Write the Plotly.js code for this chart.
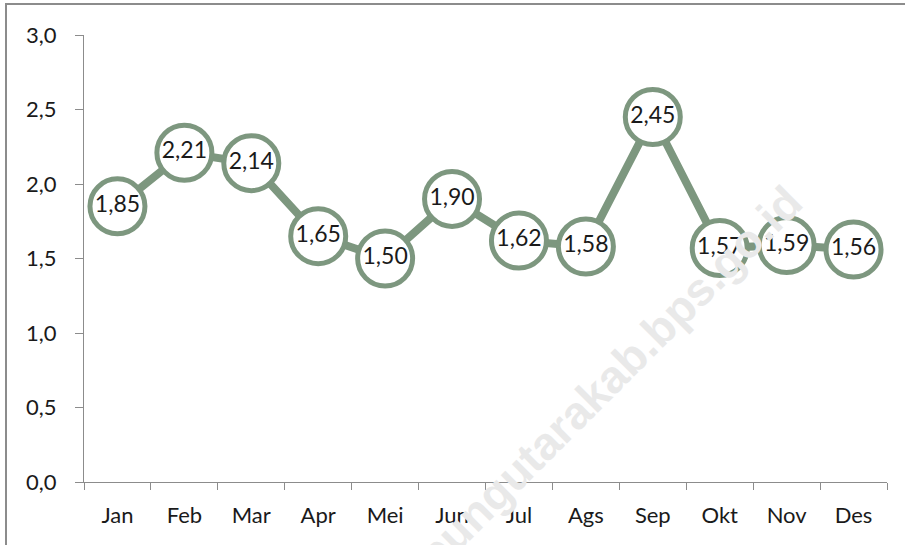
<!DOCTYPE html>
<html>
<head>
<meta charset="utf-8">
<script src="https://cdn.plot.ly/plotly-3.0.1.min.js"></script>
<style>
  html, body { margin: 0; padding: 0; background: #fff; overflow: hidden; }
  #chart { width: 905px; height: 545px; }
  #frame { position: absolute; left: 5px; top: 3px; width: 960px; height: 600px; border: 2px solid #8c8c8c; pointer-events: none; }
</style>
</head>
<body>
<div id="chart"></div>
<div id="frame"></div>
<script>
const months = ["Jan", "Feb", "Mar", "Apr", "Mei", "Jun", "Jul", "Ags", "Sep", "Okt", "Nov", "Des"];
const values = [1.85, 2.21, 2.14, 1.65, 1.50, 1.90, 1.62, 1.58, 2.45, 1.57, 1.59, 1.56];
const yTicks = [0, 0.5, 1.0, 1.5, 2.0, 2.5, 3.0];

const lineColor = "#7d977f";
const labelFont = "Lato, 'Open Sans', sans-serif";

const trace = {
  type: "scatter",
  mode: "lines+markers+text",
  x: months,
  y: values,
  line: { color: lineColor, width: 8 },
  marker: { size: 55, color: "#ffffff", line: { color: lineColor, width: 5 } },
  texttemplate: "%{y:.2f}",
  textposition: "middle center",
  textfont: { family: labelFont, size: 23, color: "#1a1a1a" },
  cliponaxis: false,
  hoverinfo: "skip"
};

const layout = {
  width: 905,
  height: 545,
  separators: ",.",
  margin: { l: 84, r: 18, t: 35, b: 63 },
  paper_bgcolor: "#ffffff",
  plot_bgcolor: "#ffffff",
  showlegend: false,
  font: { family: labelFont, size: 22, color: "#1a1a1a" },
  xaxis: {
    type: "category",
    range: [-0.5, 11.5],
    showgrid: false,
    zeroline: false,
    showline: true,
    linecolor: "#8c8c8c",
    linewidth: 1,
    ticks: "outside",
    tickson: "boundaries",
    ticklen: 7,
    tickcolor: "#8c8c8c",
    ticklabelstandoff: 14,
    tickfont: { family: labelFont, size: 22, color: "#1a1a1a" },
    fixedrange: true
  },
  yaxis: {
    range: [0, 3],
    tickvals: yTicks,
    tickformat: ".1f",
    showgrid: false,
    zeroline: false,
    showline: true,
    linecolor: "#8c8c8c",
    linewidth: 1,
    ticks: "outside",
    ticklen: 8,
    tickcolor: "#8c8c8c",
    ticklabelstandoff: 14,
    tickfont: { family: labelFont, size: 22, color: "#1a1a1a" },
    fixedrange: true
  },
  annotations: [{
    text: "<b>lampungutarakab.bps.go.id</b>",
    xref: "paper", yref: "paper",
    x: 0.62, y: 0.17,
    xanchor: "center", yanchor: "middle",
    showarrow: false,
    textangle: -45,
    font: { family: "'Liberation Sans', Arial, sans-serif", size: 46, color: "#e9e9e9" }
  }]
};

Plotly.newPlot("chart", [trace], layout, { displayModeBar: false, staticPlot: true });
</script>
</body>
</html>
